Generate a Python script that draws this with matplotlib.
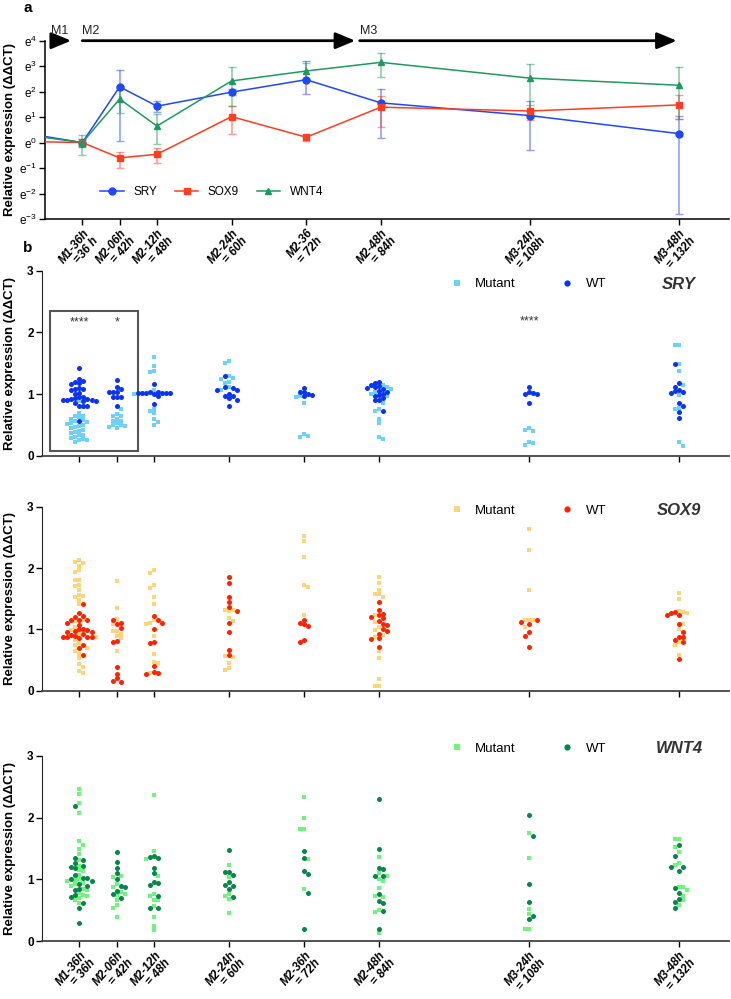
import numpy as np
import matplotlib
matplotlib.use('Agg')
import matplotlib.pyplot as plt
from matplotlib.patches import Rectangle
from matplotlib.lines import Line2D

plt.rcParams['font.family'] = ['Liberation Sans Narrow', 'Liberation Sans', 'DejaVu Sans']
plt.rcParams['mathtext.default'] = 'regular'

# ---------------- data ----------------
hours = [36, 42, 48, 60, 72, 84, 108, 132]
tick_labels = ['M1-36h\n= 36h', 'M2-06h\n= 42h', 'M2-12h\n= 48h', 'M2-24h\n= 60h',
               'M2-36h\n= 72h', 'M2-48h\n= 84h', 'M3-24h\n= 108h', 'M3-48h\n= 132h']
tick_labels_a = ['M1-36h\n=36 h', 'M2-06h\n= 42h', 'M2-12h\n= 48h', 'M2-24h\n= 60h',
                 'M2-36\n= 72h', 'M2-48h\n= 84h', 'M3-24h\n= 108h', 'M3-48h\n= 132h']

# panel a: mean expression as exponent of e, with lower / upper error (exponent units)
hours_a = [24] + hours
sry_mean = [0.48, 0.0, 2.19, 1.43, 1.98, 2.47, 1.56, 1.06, 0.35]
sry_lo = [0, 0.18, 2.14, 0.23, 0.13, 0.55, 1.38, 1.36, 3.16]
sry_hi = [0, 0.15, 0.65, 0.20, 0.11, 0.72, 0.56, 0.56, 0.68]
sox9_mean = [0.06, 0.0, -0.60, -0.46, 1.02, 0.21, 1.39, 1.24, 1.48]
sox9_lo = [0, 0.15, 0.38, 0.34, 0.69, 0.16, 0.77, 0.36, 0.56]
sox9_hi = [0, 0.15, 0.25, 0.26, 0.42, 0.08, 0.43, 0.25, 0.38]
wnt4_mean = [0.40, 0.0, 1.71, 0.65, 2.42, 2.81, 3.15, 2.53, 2.25]
wnt4_lo = [0, 0.47, 0.55, 0.72, 0.98, 0.30, 0.56, 1.30, 1.33]
wnt4_hi = [0, 0.31, 0.50, 0.49, 0.54, 0.31, 0.36, 0.55, 0.71]

phases = ['M1', 'M2', 'M3']
phase_start = [31.0, 36.0, 80.6]
phase_end = [34.2, 79.9, 131.6]

# panel b: individual relative expression values per time point
sry_wt = [
    [1.43, 1.25, 1.21, 1.2, 1.18, 1.17, 1.1, 1.08, 1.08, 1.07, 1.02, 1.0, 0.95, 0.95, 0.93,
     0.92, 0.92, 0.9, 0.9, 0.9, 0.89, 0.88, 0.85, 0.81, 0.8, 0.8, 0.56],
    [1.22, 1.12, 1.08, 1.04, 1.03, 1.03, 0.95, 0.95, 0.95, 0.81],
    [1.16, 1.04, 1.03, 1.02, 1.02, 1.02, 1.02, 1.01, 1.01, 1.0, 0.97, 0.84],
    [1.29, 1.11, 1.1, 1.06, 1.06, 1.0, 0.96, 0.96, 0.93, 0.91, 0.8],
    [1.1, 1.04, 1.03, 1.0, 0.98, 0.96],
    [1.2, 1.18, 1.14, 1.13, 1.11, 1.1, 1.08, 1.05, 1.03, 1.0, 0.98, 0.97, 0.93, 0.9, 0.9, 0.72],
    [1.11, 1.03, 1.01, 1.0, 1.0, 0.85],
    [1.48, 1.18, 1.12, 1.07, 1.05, 1.04, 1.02, 0.86, 0.8, 0.71, 0.61],
]
sry_mut = [
    [0.88, 0.7, 0.65, 0.64, 0.63, 0.6, 0.58, 0.56, 0.55, 0.53, 0.52, 0.5, 0.48, 0.46, 0.45,
     0.42, 0.4, 0.38, 0.36, 0.34, 0.33, 0.3, 0.28, 0.27, 0.26, 0.25, 0.23],
    [0.76, 0.68, 0.64, 0.64, 0.6, 0.57, 0.56, 0.53, 0.5, 0.49, 0.48, 0.47, 0.45],
    [1.6, 1.45, 1.37, 1.35, 1.07, 1.0, 0.76, 0.73, 0.69, 0.59, 0.54, 0.49],
    [1.53, 1.5, 1.29, 1.26, 1.25, 1.19, 1.18, 1.12, 1.07],
    [0.96, 0.95, 0.86, 0.35, 0.32, 0.3],
    [1.15, 1.12, 1.08, 1.04, 1.0, 0.96, 0.86, 0.75, 0.72, 0.6, 0.53, 0.3, 0.27],
    [0.45, 0.42, 0.4, 0.22, 0.2, 0.17],
    [1.79, 1.79, 1.48, 1.37, 1.15, 0.99, 0.78, 0.75, 0.22, 0.16],
]
sox9_wt = [
    [1.41, 1.26, 1.22, 1.2, 1.16, 1.15, 1.15, 1.11, 1.07, 1.01, 1.0, 0.99, 0.97, 0.96, 0.95,
     0.93, 0.91, 0.9, 0.88, 0.88, 0.88, 0.87, 0.86, 0.74, 0.69, 0.58],
    [1.16, 1.11, 1.09, 1.03, 0.81, 0.8, 0.38, 0.28, 0.21, 0.16, 0.15],
    [1.22, 1.15, 1.1, 1.0, 0.8, 0.77, 0.4, 0.31, 0.29, 0.28],
    [1.85, 1.76, 1.52, 1.44, 1.37, 1.3, 1.1, 0.95, 0.66, 0.58],
    [1.16, 1.1, 1.08, 1.05, 0.83, 0.8],
    [1.44, 1.31, 1.25, 1.24, 1.2, 1.18, 1.13, 1.08, 1.07, 1.0, 0.98, 0.93, 0.86, 0.85, 0.72],
    [1.16, 1.12, 1.09, 0.96, 0.9, 0.72],
    [1.29, 1.27, 1.24, 1.23, 1.09, 0.96, 0.87, 0.87, 0.82, 0.79, 0.52],
]
sox9_mut = [
    [2.13, 2.1, 2.08, 2.04, 1.96, 1.94, 1.81, 1.8, 1.72, 1.71, 1.64, 1.56, 1.55, 1.53, 1.48,
     1.41, 1.15, 1.13, 1.04, 0.99, 0.93, 0.88, 0.83, 0.77, 0.75, 0.69, 0.64, 0.6, 0.53, 0.44,
     0.39, 0.32, 0.29],
    [1.79, 1.35, 1.17, 1.08, 0.98, 0.98, 0.93, 0.9, 0.86, 0.65],
    [1.96, 1.92, 1.73, 1.67, 1.53, 1.41, 1.15, 1.1, 1.09, 0.9, 0.6, 0.47, 0.45, 0.29],
    [1.31, 1.31, 1.3, 1.18, 1.14, 0.57, 0.55, 0.45, 0.37, 0.33],
    [2.53, 2.44, 2.18, 1.73, 1.69, 1.24],
    [1.86, 1.76, 1.64, 1.58, 1.57, 1.52, 1.24, 1.12, 1.04, 0.99, 0.91, 0.87, 0.64, 0.53,
     0.19, 0.08, 0.07],
    [2.64, 2.3, 1.64, 1.16, 1.16, 1.16, 1.04],
    [1.59, 1.5, 1.3, 1.28, 1.26, 1.09, 1.01, 0.79, 0.74, 0.59],
]
wnt4_wt = [
    [2.19, 1.35, 1.31, 1.26, 1.21, 1.2, 1.18, 1.07, 1.02, 1.02, 1.01, 0.98, 0.92, 0.9, 0.85,
     0.83, 0.74, 0.72, 0.62, 0.53, 0.29],
    [1.45, 1.28, 1.18, 1.1, 1.0, 0.9, 0.87, 0.81, 0.76, 0.69],
    [1.38, 1.36, 1.34, 1.19, 1.11, 0.95, 0.94, 0.91, 0.73, 0.54, 0.53],
    [1.48, 1.12, 1.12, 1.07, 0.95, 0.91, 0.9, 0.84, 0.71],
    [1.46, 1.34, 1.14, 1.09, 0.78, 0.19],
    [2.3, 1.49, 1.18, 1.17, 1.06, 1.06, 0.76, 0.65, 0.62, 0.48, 0.2],
    [2.05, 1.7, 0.92, 0.63, 0.41, 0.35],
    [1.55, 1.38, 1.2, 1.2, 1.14, 0.86, 0.78, 0.68, 0.63, 0.53],
]
wnt4_mut = [
    [2.46, 2.38, 2.24, 2.07, 1.62, 1.56, 1.49, 1.41, 1.31, 1.22, 1.15, 1.13, 1.07, 1.0, 0.99,
     0.97, 0.94, 0.92, 0.9, 0.85, 0.83, 0.78, 0.74, 0.73, 0.7, 0.66, 0.62],
    [1.05, 1.04, 0.92, 0.87, 0.79, 0.76, 0.74, 0.66, 0.58, 0.53, 0.39],
    [2.37, 1.46, 1.33, 1.05, 0.77, 0.73, 0.66, 0.66, 0.56, 0.39, 0.25, 0.18],
    [1.23, 1.03, 0.76, 0.73, 0.68, 0.46],
    [2.33, 2.0, 1.81, 1.81, 1.33, 0.84],
    [1.37, 1.11, 1.05, 1.0, 0.97, 0.86, 0.73, 0.72, 0.5, 0.47, 0.13],
    [1.75, 1.34, 0.52, 0.43, 0.2, 0.2],
    [1.66, 1.66, 1.53, 1.44, 1.26, 1.23, 0.88, 0.88, 0.82, 0.73, 0.66, 0.58],
]

genes = ['SRY', 'SOX9', 'WNT4']
wt_data = [sry_wt, sox9_wt, wnt4_wt]
mut_data = [sry_mut, sox9_mut, wnt4_mut]
wt_colors = ['#0A33F2', '#FF2200', '#05874A']
mut_colors = ['#6ED2F8', '#FFD47A', '#72F27E']
line_colors = ['#2047FA', '#FF3D1F', '#1E9A5E']
legend_y = [0.928, 0.978, 1.04]


def swarm(vals, px_y=61.5, px_x=6.23, d=4.0):
    # simple beeswarm: offset in hours so markers do not pile up
    vals = np.asarray(vals, float)
    order = np.argsort(-vals)
    placed = []
    offs = np.zeros(len(vals))
    for n, i in enumerate(order):
        y = vals[i] * px_y
        s = 1 if n % 2 == 0 else -1
        cands = [0.0]
        for k in range(1, 20):
            cands += [s * k * d, -s * k * d]
        for c in cands:
            if all(abs(c - px) > d * 0.95 or abs(y - py) > d * 0.95 for px, py in placed):
                break
        placed.append((c, y))
        offs[i] = c / px_x
    return offs


fig = plt.figure(figsize=(7.31, 9.99), dpi=100)
W, H = 731.0, 999.0
ylab_font = dict(fontsize=9.5, fontweight='bold')

# ---------------- panel a ----------------
ax = fig.add_axes([45 / W, 1 - 219 / H, 684 / W, 178.3 / H])
means = [sry_mean, sox9_mean, wnt4_mean]
los = [sry_lo, sox9_lo, wnt4_lo]
his = [sry_hi, sox9_hi, wnt4_hi]
markers = ['o', 's', '^']
handles = []
for g in range(3):
    ax.errorbar(hours_a, means[g], yerr=[los[g], his[g]], fmt='none', ecolor=line_colors[g],
                elinewidth=1.2, capsize=3, alpha=0.5, zorder=2)
    h, = ax.plot(hours_a, means[g], color=line_colors[g], lw=1.1, marker=markers[g],
                 markersize=5, zorder=3)
    handles.append(h)
for name, s, e in zip(phases, phase_start, phase_end):
    ax.annotate('', xy=(e, 4), xytext=(s, 4),
                arrowprops=dict(arrowstyle='-|>,head_length=1.2,head_width=0.5', lw=2,
                                color='black', shrinkA=0, shrinkB=0), annotation_clip=False)
    ax.text(s, 4.15, name, fontsize=9, ha='left', va='bottom', color='#222222')
ax.set_xlim(30, 140)
ax.set_ylim(-3, 4)
ax.set_yticks(range(-3, 5))
ax.set_yticklabels(['$e^{%d}$' % k for k in range(-3, 5)], fontsize=8.5)
ax.set_xticks(hours)
ax.set_xticklabels(tick_labels_a, rotation=50, ha='right', va='top', rotation_mode='anchor',
                   fontsize=8.5, style='italic', fontweight='bold', linespacing=1.0)
for sp in ['top', 'right']:
    ax.spines[sp].set_visible(False)
ax.spines['left'].set_linewidth(1.1)
ax.spines['bottom'].set_linewidth(1.1)
ax.tick_params(length=4, width=1, pad=2)
ax.set_ylabel('Relative expression (ΔΔCT)', **ylab_font)
ax.yaxis.set_label_coords(-0.043, 0.5)
ax.legend(handles, genes, loc='center left', bbox_to_anchor=(0.065, 0.153), ncol=3,
          frameon=False, fontsize=8.5, columnspacing=1.5, handlelength=2.0)
fig.text(28 / W, 1 - 8 / H, 'a', fontsize=11, fontweight='bold', ha='center', va='center',
         family=['Liberation Sans', 'DejaVu Sans'])
fig.text(28 / W, 1 - 248 / H, 'b', fontsize=11, fontweight='bold', ha='center', va='center',
         family=['Liberation Sans', 'DejaVu Sans'])

# ---------------- panel b ----------------
tops = [270.7, 506.7, 756.0]
bottoms = [455.7, 690.7, 941.0]
for g in range(3):
    axb = fig.add_axes([42 / W, 1 - bottoms[g] / H, 687 / W, (bottoms[g] - tops[g]) / H])
    for j, t in enumerate(hours):
        vals = list(mut_data[g][j]) + list(wt_data[g][j])
        offs = swarm(vals)
        nm = len(mut_data[g][j])
        axb.scatter(t + offs[:nm], mut_data[g][j], marker='s', s=12, color=mut_colors[g],
                    linewidths=0, zorder=3)
        axb.scatter(t + offs[nm:], wt_data[g][j], marker='o', s=13, color=wt_colors[g],
                    linewidths=0, zorder=4)
    axb.set_xlim(30, 140)
    axb.set_ylim(0, 3)
    axb.set_yticks([0, 1, 2, 3])
    axb.set_xticks(hours)
    if g == 2:
        axb.set_xticklabels(tick_labels, rotation=50, ha='right', va='top',
                            rotation_mode='anchor', fontsize=9.5, style='italic',
                            fontweight='bold', linespacing=1.0)
    else:
        axb.set_xticklabels([])
    for sp in ['top', 'right']:
        axb.spines[sp].set_visible(False)
    axb.spines['left'].set_color('#222222')
    axb.spines['bottom'].set_color('#444444')
    axb.spines['bottom'].set_linewidth(1.3)
    axb.tick_params(length=4, width=1, pad=2, labelsize=8.5)
    for lab in axb.get_yticklabels():
        lab.set_fontweight('bold')
        lab.set_family(['Liberation Sans', 'DejaVu Sans'])
    axb.set_ylabel('Relative expression (ΔΔCT)', **ylab_font)
    axb.yaxis.set_label_coords(-0.038, 0.5)
    mh = Line2D([], [], ls='none', marker='s', markersize=4.5, color=mut_colors[g], mew=0)
    wh = Line2D([], [], ls='none', marker='o', markersize=4.5, color=wt_colors[g], mew=0)
    axb.legend([mh, wh], ['Mutant', 'WT'], loc='center left', bbox_to_anchor=(0.575, legend_y[g]),
               ncol=2, frameon=False, fontsize=9.5, columnspacing=3.3, handletextpad=0.8,
               handlelength=1.2)
    axb.text(0.927, legend_y[g], genes[g], transform=axb.transAxes, fontsize=12,
             fontweight='bold', style='italic', ha='center', va='center', color='#333333',
             family=['Liberation Sans', 'DejaVu Sans'])
    if g == 0:
        axb.add_patch(Rectangle((31.3, 0.07), 45.3 - 31.3, 2.35 - 0.07, fill=False,
                                edgecolor='#555555', lw=1.5, zorder=1))
        axb.text(36, 2.16, '****', ha='center', va='center', fontsize=9, color='#333333')
        axb.text(42, 2.16, '*', ha='center', va='center', fontsize=9, color='#333333')
        axb.text(108, 2.18, '****', ha='center', va='center', fontsize=9, color='#333333')

fig.savefig('out.png', dpi=100)
